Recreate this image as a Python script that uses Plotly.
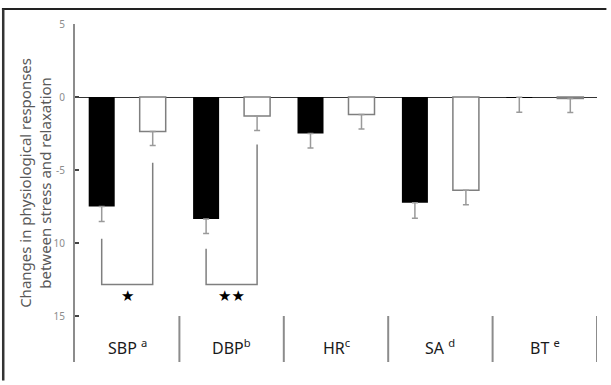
import plotly.graph_objects as go

# Mean change (relaxation minus stress) per measure, with standard errors
categories = ["SBP", "DBP", "HR", "SA", "BT"]
superscripts = ["a", "b", "c", "d", "e"]
stress = [-7.50, -8.35, -2.50, -7.25, -0.02]
stress_err = [1.03, 1.00, 1.00, 1.05, 1.02]
relax = [-2.37, -1.30, -1.20, -6.38, -0.10]
relax_err = [0.96, 1.00, 1.00, 1.00, 0.97]

tick_values = [5, 0, -5, -10, -15]
tick_labels = ["5", "0", "-5", "10", "15"]

# Significance brackets: category index, leg tops, base level and marker text
sig_index = [0, 1]
sig_leg_stress = [-9.7, -10.4]
sig_leg_relax = [-4.5, -3.25]
sig_base = [-12.85, -12.85]
sig_level = [-13.65, -13.65]
sig_marks = ["★", "★★"]

Y_MIN, Y_MAX = -18.15, 5
SEP_TOP = -15
LABEL_Y = -17.15
BARGAP = 0.023
BARGROUPGAP = 0.49
HALF_SLOT = (1 - BARGAP) / 4  # distance from category centre to each bar centre

FONT = "Noto Sans"
GREY = "#8c8c8c"

fig = go.Figure()

fig.add_trace(go.Bar(
    x=list(range(len(categories))), y=stress,
    marker=dict(color="black", line=dict(width=0)),
    error_y=dict(type="data", symmetric=False, array=[0] * len(stress),
                 arrayminus=stress_err, color="#9a9a9a", thickness=1.5, width=3),
    showlegend=False, hoverinfo="skip",
))
fig.add_trace(go.Bar(
    x=list(range(len(categories))), y=relax,
    marker=dict(color="white", line=dict(color="#7f7f7f", width=1.5)),
    error_y=dict(type="data", symmetric=False, array=[0] * len(relax),
                 arrayminus=relax_err, color="#9a9a9a", thickness=1.5, width=3),
    showlegend=False, hoverinfo="skip",
))

shapes = []
# vertical separators between measure groups
for i in range(len(categories)):
    shapes.append(dict(type="line", xref="x", yref="y", x0=i + 0.5, x1=i + 0.5,
                       y0=SEP_TOP, y1=Y_MIN, line=dict(color=GREY, width=2)))

annotations = []
# significance brackets
for k, i in enumerate(sig_index):
    xl = i - HALF_SLOT
    xr = i + HALF_SLOT
    path = (f"M {xl} {sig_leg_stress[k]} L {xl} {sig_base[k]} "
            f"L {xr} {sig_base[k]} L {xr} {sig_leg_relax[k]}")
    shapes.append(dict(type="path", xref="x", yref="y", path=path,
                       line=dict(color="#7f7f7f", width=1.5)))
    annotations.append(dict(x=i, y=sig_level[k], xref="x", yref="y", text=sig_marks[k],
                            showarrow=False, font=dict(family="DejaVu Sans", size=15, color="black"),
                            xanchor="center", yanchor="middle"))

# group labels with superscript notes
for i, (c, s) in enumerate(zip(categories, superscripts)):
    gap = " " if c in ("SBP", "SA", "BT") else ""
    annotations.append(dict(x=i, y=LABEL_Y, xref="x", yref="y",
                            text=f"{c}{gap}<sup>{s}</sup>", showarrow=False,
                            font=dict(family=FONT, size=16, color="#1a1a1a"),
                            xanchor="center", yanchor="middle"))

# y-axis title
annotations.append(dict(x=-0.0766, y=0.53, xref="paper", yref="paper",
                        text="Changes in physiological responses<br>between stress and relaxation",
                        textangle=-90, showarrow=False,
                        font=dict(family=FONT, size=15, color="#595959"),
                        xanchor="center", yanchor="middle"))

# outer frame (top and left edges)
shapes.append(dict(type="line", xref="paper", yref="paper", x0=-0.14, x1=1.018,
                   y0=1.0444, y1=1.0444, line=dict(color="#222222", width=2)))
shapes.append(dict(type="line", xref="paper", yref="paper", x0=-0.1375, x1=-0.1375,
                   y0=-0.055, y1=1.0444, line=dict(color="#333333", width=2.5)))

fig.update_layout(
    width=611, height=385,
    margin=dict(l=75, r=14, t=24, b=23),
    paper_bgcolor="white", plot_bgcolor="white",
    barmode="group", bargap=BARGAP, bargroupgap=BARGROUPGAP,
    shapes=shapes, annotations=annotations,
    xaxis=dict(range=[-0.5, len(categories) - 0.5], showticklabels=False,
               showgrid=False, zeroline=False, showline=False, ticks=""),
    yaxis=dict(range=[Y_MIN, Y_MAX], tickvals=tick_values, ticktext=tick_labels,
               ticks="inside", ticklen=4, tickwidth=1.5, tickcolor="#444444",
               tickfont=dict(family=FONT, size=10, color=GREY),
               ticklabelstandoff=6,
               showline=True, linecolor=GREY, linewidth=2,
               showgrid=False, zeroline=True, zerolinecolor="#333333", zerolinewidth=1),
)

fig.write_html("out.html")
